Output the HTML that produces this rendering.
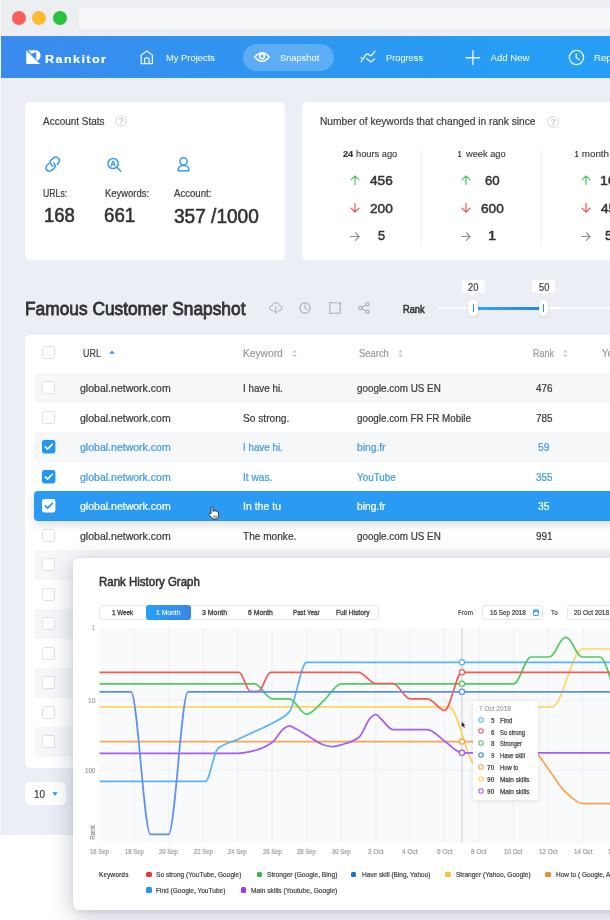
<!DOCTYPE html>
<html><head><meta charset="utf-8"><title>Rankitor</title>
<style>
*{box-sizing:border-box}
html,body{margin:0;padding:0}
body{width:610px;height:920px;overflow:hidden;position:relative;background:#fff;font-family:'Liberation Sans', sans-serif}
.t{position:absolute;white-space:nowrap;transform-origin:0 50%}
.a{position:absolute}
svg{position:absolute;overflow:visible}
</style></head><body>
<div class="a" style="left:0;top:0;width:610px;height:37px;background:#eceef2"></div>
<div class="a" style="left:0;top:0;width:1px;height:835px;background:#f7f8fa"></div>
<div class="a" style="left:12.4px;top:11.1px;width:13.8px;height:13.8px;border-radius:50%;background:#fb5f5a"></div>
<div class="a" style="left:32.1px;top:11.1px;width:13.8px;height:13.8px;border-radius:50%;background:#fdbd31"></div>
<div class="a" style="left:53.1px;top:11.1px;width:13.8px;height:13.8px;border-radius:50%;background:#29c33d"></div>
<div class="a" style="left:79.3px;top:8.2px;width:560px;height:21px;border-radius:4px;background:#f7f8fa"></div>
<div class="a" style="left:1px;top:36.2px;width:610px;height:41.4px;background:linear-gradient(90deg,#3a8aec 0%,#3194f0 37%,#299bf3 72%,#25a0f6 100%)"></div>
<div class="a" style="left:243.1px;top:43.7px;width:91.3px;height:27px;border-radius:13.5px;background:rgba(255,255,255,0.22)"></div>
<svg style="left:26px;top:50px" width="15" height="14" viewBox="0 0 15 14">
<path d="M0.3,0.6 L0.3,14 L14,14 Z" fill="#fff"/>
<path d="M2,0.3 L9.5,0.3 C12.8,0.3 14.6,2.6 14.6,5.6 C14.6,8.2 13.3,9.9 11.6,10.6 L12.6,11.7 Z M5.3,3.8 L10.2,2.3 L10.2,8.9 Z" fill="#fff" fill-rule="evenodd"/>
</svg>
<div class="t" style="left:44.90px;top:52.68px;font-size:11.60px;line-height:11.60px;font-weight:700;color:#fff;-webkit-text-stroke:0.2px #fff;letter-spacing:1.300px;transform:scaleX(1.0863)">Rankitor</div>
<svg style="left:140.3px;top:50px" width="14" height="15" viewBox="0 0 14 15" fill="none" stroke="rgba(255,255,255,0.9)" stroke-width="1.3" stroke-linejoin="round">
<path d="M1.2,5 L6.8,1 L12.4,5 L12.4,13.6 L1.2,13.6 Z"/><path d="M4.6,13.6 L4.6,9.2 Q4.6,7.9 5.9,7.9 L7.7,7.9 Q9,7.9 9,9.2 L9,13.6"/></svg>
<div class="t" style="left:165.50px;top:53.27px;font-size:9.60px;line-height:9.60px;color:rgba(255,255,255,0.93);-webkit-text-stroke:0.05px rgba(255,255,255,0.93);transform:scaleX(0.9779)">My Projects</div>
<svg style="left:254px;top:51px" width="16" height="12" viewBox="0 0 16 12" fill="none" stroke="#fff" stroke-width="1.5">
<path d="M0.8,6 Q8,-2.5 15.2,6 Q8,14.5 0.8,6 Z"/><circle cx="8" cy="5.3" r="2.4"/></svg>
<div class="t" style="left:279.80px;top:53.27px;font-size:9.60px;line-height:9.60px;color:rgba(255,255,255,0.93);-webkit-text-stroke:0.05px rgba(255,255,255,0.93);transform:scaleX(0.9688)">Snapshot</div>
<svg style="left:355px;top:45px" width="24" height="24" viewBox="0 0 24 24" fill="none" stroke="rgba(255,255,255,0.9)" stroke-width="1.35" stroke-linecap="round" stroke-linejoin="round">
<path d="M6.1,16.7 L10.9,9.6 Q11.8,8.5 13,9.2 L15.2,10.5 Q16.1,11 16.8,10.1 L19.9,6.3"/><path d="M11.6,13.4 L15.1,16.3 Q16.1,17.1 17,16.3 L19.5,14"/><path d="M5.9,12.6 L6.5,12.9"/></svg>
<div class="t" style="left:385.60px;top:53.27px;font-size:9.60px;line-height:9.60px;color:rgba(255,255,255,0.93);-webkit-text-stroke:0.05px rgba(255,255,255,0.93);transform:scaleX(0.9639)">Progress</div>
<svg style="left:464.5px;top:49.5px" width="16" height="16" viewBox="0 0 16 16" fill="none" stroke="rgba(255,255,255,0.9)" stroke-width="1.35" stroke-linecap="round">
<path d="M7.9,1 V14.6 M1,7.7 H14.6"/></svg>
<div class="t" style="left:490.50px;top:53.27px;font-size:9.60px;line-height:9.60px;color:rgba(255,255,255,0.93);-webkit-text-stroke:0.05px rgba(255,255,255,0.93)">Add New</div>
<svg style="left:568.3px;top:48.5px" width="17" height="17" viewBox="0 0 17 17" fill="none" stroke="rgba(255,255,255,0.9)" stroke-width="1.35" stroke-linecap="round">
<circle cx="8.5" cy="8.5" r="7.1"/><path d="M8.2,4.9 V8.5 L11.3,10.8"/></svg>
<div class="t" style="left:593.60px;top:53.27px;font-size:9.60px;line-height:9.60px;color:rgba(255,255,255,0.93);-webkit-text-stroke:0.05px rgba(255,255,255,0.93);transform:scaleX(1.0061)">Reports</div>
<div class="a" style="left:1px;top:77.5px;width:610px;height:757px;background:#ebeef5"></div>
<div class="a" style="left:25px;top:101.5px;width:259.5px;height:158.5px;border-radius:5px;background:#fff"></div>
<div class="t" style="left:43.30px;top:116.05px;font-size:11.40px;line-height:11.40px;color:#3d3d3d;-webkit-text-stroke:0.22px #3d3d3d;transform:scaleX(0.8756)">Account Stats</div>
<svg style="left:114.7px;top:115px" width="12" height="12" viewBox="0 0 12 12"><circle cx="6" cy="6" r="5.3" fill="none" stroke="#cfd2d6" stroke-width="0.9"/>
<text x="6" y="9.1" font-size="8.6" font-weight="bold" text-anchor="middle" fill="#c4c7cc" font-family="Liberation Sans, sans-serif">?</text></svg>
<svg style="left:42px;top:153px" width="22" height="22" viewBox="0 0 22 22" fill="none" stroke="#3a9cf0" stroke-width="1.55" stroke-linecap="round">
<path d="M10.5,13.2 L8.9,11.3 C7.8,10 8,8 9.3,6.8 L11.6,4.9 C13,3.8 15.2,3.9 16.5,5.3 C17.8,6.7 17.7,8.9 16.3,10.1 L15.3,11.1"/>
<path d="M6.6,10.8 L5,12.3 C3.6,13.6 3.6,15.8 4.9,17.1 C6.2,18.4 8.4,18.5 9.7,17.3 L12,15.3 C13.3,14.1 13.4,12.1 12.2,10.8 L11.6,10.1"/></svg>
<svg style="left:103px;top:153px" width="22" height="22" viewBox="0 0 22 22" fill="none" stroke="#3a9cf0" stroke-width="1.5" stroke-linecap="round">
<circle cx="10.1" cy="10.5" r="5.1"/><path d="M13.9,14.3 L17.9,18.3"/>
<path d="M8.3,12.9 L9.6,8.4 H10.6 L11.9,12.9 M8.8,11.3 H11.4" stroke-width="1.2" stroke-linejoin="round"/></svg>
<svg style="left:173px;top:153px" width="22" height="22" viewBox="0 0 22 22" fill="none" stroke="#3a9cf0" stroke-width="1.5" stroke-linejoin="round">
<circle cx="10.5" cy="8.3" r="3.6"/><path d="M5.1,17.8 Q4.9,12.4 10.5,12.4 Q16.1,12.4 15.9,17.8 Z"/></svg>
<div class="t" style="left:42.90px;top:188.84px;font-size:10.00px;line-height:10.00px;color:#3d3d3d;-webkit-text-stroke:0.22px #3d3d3d;transform:scaleX(0.8739)">URLs:</div>
<div class="t" style="left:104.50px;top:188.84px;font-size:10.00px;line-height:10.00px;color:#3d3d3d;-webkit-text-stroke:0.22px #3d3d3d;transform:scaleX(0.9432)">Keywords:</div>
<div class="t" style="left:173.70px;top:188.74px;font-size:10.00px;line-height:10.00px;color:#3d3d3d;-webkit-text-stroke:0.22px #3d3d3d;transform:scaleX(0.9598)">Account:</div>
<div class="t" style="left:43.97px;top:206.04px;font-size:19.80px;line-height:19.80px;color:#333;-webkit-text-stroke:0.6px #333;transform:scaleX(0.9343)">168</div>
<div class="t" style="left:103.55px;top:206.04px;font-size:19.80px;line-height:19.80px;color:#333;-webkit-text-stroke:0.6px #333;transform:scaleX(0.9468)">661</div>
<div class="t" style="left:174.20px;top:206.64px;font-size:19.80px;line-height:19.80px;color:#333;-webkit-text-stroke:0.6px #333;transform:scaleX(0.9636)">357 /1000</div>
<div class="a" style="left:302px;top:101.5px;width:330px;height:158.5px;border-radius:5px;background:#fff"></div>
<div class="t" style="left:320.40px;top:115.95px;font-size:11.40px;line-height:11.40px;color:#3d3d3d;-webkit-text-stroke:0.22px #3d3d3d;transform:scaleX(0.8957)">Number of keywords that changed in rank since</div>
<svg style="left:547.3px;top:115.8px" width="12" height="12" viewBox="0 0 12 12"><circle cx="6" cy="6" r="5.3" fill="none" stroke="#cfd2d6" stroke-width="0.9"/>
<text x="6" y="9.1" font-size="8.6" font-weight="bold" text-anchor="middle" fill="#c4c7cc" font-family="Liberation Sans, sans-serif">?</text></svg>
<div class="a" style="left:421px;top:148px;width:1px;height:99px;background:#f1f2f5"></div>
<div class="a" style="left:541.3px;top:148px;width:1px;height:99px;background:#f1f2f5"></div>
<div class="t" style="left:343.10px;top:149.00px;font-size:9.80px;line-height:9.80px;font-weight:700;color:#333;-webkit-text-stroke:0.2px #333;transform:scaleX(0.9346)">24</div>
<div class="t" style="left:355.90px;top:149.00px;font-size:9.80px;line-height:9.80px;color:#3d3d3d;-webkit-text-stroke:0.15px #3d3d3d;transform:scaleX(0.9473)">hours ago</div>
<svg style="left:350.0px;top:175.0px" width="10" height="10" viewBox="0 0 10 10" fill="none" stroke="#4cc45e" stroke-width="1.15" stroke-linecap="round" stroke-linejoin="round">
<path d="M5,9.4 V0.9 M1,4.8 L5,0.8 L9,4.8"/></svg>
<svg style="left:350.0px;top:202.6px" width="10" height="10" viewBox="0 0 10 10" fill="none" stroke="#f24d4d" stroke-width="1.15" stroke-linecap="round" stroke-linejoin="round">
<path d="M5,0.6 V9.1 M1,5.2 L5,9.2 L9,5.2"/></svg>
<svg style="left:350.0px;top:231.5px" width="10" height="9" viewBox="0 0 10 9" fill="none" stroke="#8f8f8f" stroke-width="1.1" stroke-linecap="round" stroke-linejoin="round">
<path d="M0.6,4.5 H9.2 M5.4,0.7 L9.2,4.5 L5.4,8.3"/></svg>
<div class="t" style="left:370.00px;top:173.87px;font-size:13.50px;line-height:13.50px;color:#333;-webkit-text-stroke:0.5px #333;transform:scaleX(1.0084)">456</div>
<div class="t" style="left:370.00px;top:201.77px;font-size:13.50px;line-height:13.50px;color:#333;-webkit-text-stroke:0.5px #333;transform:scaleX(1.0084)">200</div>
<div class="t" style="left:377.80px;top:229.27px;font-size:13.50px;line-height:13.50px;color:#333;-webkit-text-stroke:0.5px #333;transform:scaleX(0.9429)">5</div>
<div class="t" style="left:458.10px;top:149.00px;font-size:9.80px;line-height:9.80px;font-weight:700;color:#333;-webkit-text-stroke:0.2px #333;transform:scaleX(0.6000)">1</div>
<div class="t" style="left:465.85px;top:149.00px;font-size:9.80px;line-height:9.80px;color:#3d3d3d;-webkit-text-stroke:0.15px #3d3d3d;transform:scaleX(0.9451)">week ago</div>
<svg style="left:461.2px;top:175.0px" width="10" height="10" viewBox="0 0 10 10" fill="none" stroke="#4cc45e" stroke-width="1.15" stroke-linecap="round" stroke-linejoin="round">
<path d="M5,9.4 V0.9 M1,4.8 L5,0.8 L9,4.8"/></svg>
<svg style="left:461.2px;top:202.6px" width="10" height="10" viewBox="0 0 10 10" fill="none" stroke="#f24d4d" stroke-width="1.15" stroke-linecap="round" stroke-linejoin="round">
<path d="M5,0.6 V9.1 M1,5.2 L5,9.2 L9,5.2"/></svg>
<svg style="left:461.2px;top:231.5px" width="10" height="9" viewBox="0 0 10 9" fill="none" stroke="#8f8f8f" stroke-width="1.1" stroke-linecap="round" stroke-linejoin="round">
<path d="M0.6,4.5 H9.2 M5.4,0.7 L9.2,4.5 L5.4,8.3"/></svg>
<div class="t" style="left:485.20px;top:173.87px;font-size:13.50px;line-height:13.50px;color:#333;-webkit-text-stroke:0.5px #333;transform:scaleX(0.9788)">60</div>
<div class="t" style="left:481.20px;top:201.77px;font-size:13.50px;line-height:13.50px;color:#333;-webkit-text-stroke:0.5px #333;transform:scaleX(1.0084)">600</div>
<div class="t" style="left:487.90px;top:229.27px;font-size:13.50px;line-height:13.50px;color:#333;-webkit-text-stroke:0.5px #333;transform:scaleX(1.1000)">1</div>
<div class="t" style="left:575.00px;top:149.00px;font-size:9.80px;line-height:9.80px;font-weight:700;color:#333;-webkit-text-stroke:0.2px #333;transform:scaleX(0.6000)">1</div>
<div class="t" style="left:581.80px;top:149.00px;font-size:9.80px;line-height:9.80px;color:#3d3d3d;-webkit-text-stroke:0.15px #3d3d3d">month ago</div>
<svg style="left:580.8px;top:175.0px" width="10" height="10" viewBox="0 0 10 10" fill="none" stroke="#4cc45e" stroke-width="1.15" stroke-linecap="round" stroke-linejoin="round">
<path d="M5,9.4 V0.9 M1,4.8 L5,0.8 L9,4.8"/></svg>
<svg style="left:580.8px;top:202.6px" width="10" height="10" viewBox="0 0 10 10" fill="none" stroke="#f24d4d" stroke-width="1.15" stroke-linecap="round" stroke-linejoin="round">
<path d="M5,0.6 V9.1 M1,5.2 L5,9.2 L9,5.2"/></svg>
<svg style="left:580.8px;top:231.5px" width="10" height="9" viewBox="0 0 10 9" fill="none" stroke="#8f8f8f" stroke-width="1.1" stroke-linecap="round" stroke-linejoin="round">
<path d="M0.6,4.5 H9.2 M5.4,0.7 L9.2,4.5 L5.4,8.3"/></svg>
<div class="t" style="left:599.74px;top:173.87px;font-size:13.50px;line-height:13.50px;color:#333;-webkit-text-stroke:0.5px #333;transform:scaleX(1.0563)">100</div>
<div class="t" style="left:600.80px;top:201.77px;font-size:13.50px;line-height:13.50px;color:#333;-webkit-text-stroke:0.5px #333;transform:scaleX(1.0084)">450</div>
<div class="t" style="left:604.80px;top:229.27px;font-size:13.50px;line-height:13.50px;color:#333;-webkit-text-stroke:0.5px #333;transform:scaleX(0.9788)">50</div>
<div class="t" style="left:24.67px;top:299.76px;font-size:18.60px;line-height:18.60px;color:#333;-webkit-text-stroke:0.85px #333;transform:scaleX(0.9315)">Famous Customer Snapshot</div>
<svg style="left:268.9px;top:301.8px" width="13.6" height="11.8" viewBox="0 0 15 13" fill="none" stroke="#a9adb3" stroke-width="1.1" stroke-linecap="round" stroke-linejoin="round">
<path d="M4.2,9.6 L3.6,9.6 Q0.7,9.6 0.7,6.8 Q0.7,4.3 3.3,4.1 Q4,0.8 7.4,0.8 Q10.7,0.8 11.4,4 Q14.3,4.3 14.3,7 Q14.3,9.6 11.3,9.6 L10.8,9.6"/>
<path d="M7.5,5.5 V12 M5.6,10.1 L7.5,12 L9.4,10.1"/></svg>
<svg style="left:299.4px;top:301.7px" width="12" height="12" viewBox="0 0 12 12" fill="none" stroke="#a9adb3" stroke-width="1.1" stroke-linecap="round">
<circle cx="6" cy="6" r="5.1"/><path d="M6,3 V6.2 L8,7.6"/></svg>
<svg style="left:328.5px;top:302.3px" width="13" height="12" viewBox="0 0 13 12" fill="none" stroke="#a9adb3" stroke-width="1.1">
<path d="M8.5,0.8 H0.8 V11.2 H11.2 V3.6"/><circle cx="11" cy="1.6" r="1.3" fill="#a9adb3" stroke="none"/></svg>
<svg style="left:358.3px;top:301.7px" width="12" height="12" viewBox="0 0 12 12" fill="none" stroke="#a9adb3" stroke-width="1.1">
<circle cx="2.3" cy="6" r="1.7"/><circle cx="9.4" cy="2.2" r="1.7"/><circle cx="9.4" cy="9.8" r="1.7"/><path d="M3.8,5.2 L7.9,3 M3.8,6.8 L7.9,9"/></svg>
<div class="t" style="left:402.50px;top:303.53px;font-size:10.60px;line-height:10.60px;color:#333;-webkit-text-stroke:0.55px #333;transform:scaleX(0.8728)">Rank</div>
<div class="a" style="left:438.3px;top:306.5px;width:180px;height:2.6px;border-radius:2px;background:#fff"></div>
<div class="a" style="left:473px;top:306.6px;width:70px;height:3px;background:linear-gradient(90deg,#36a6f6,#2f7fe2)"></div>
<div class="a" style="left:468.4px;top:299.5px;width:9.8px;height:16.8px;border-radius:4.5px;background:#fff;box-shadow:0 1px 3px rgba(0,0,0,0.12)"></div>
<div class="a" style="left:472.59999999999997px;top:303.5px;width:1.4px;height:8.6px;background:#2d96ee"></div>
<div class="a" style="left:538.6px;top:299.5px;width:9.8px;height:16.8px;border-radius:4.5px;background:#fff;box-shadow:0 1px 3px rgba(0,0,0,0.12)"></div>
<div class="a" style="left:542.8000000000001px;top:303.5px;width:1.4px;height:8.6px;background:#2d96ee"></div>
<div class="a" style="left:461.6px;top:280.3px;width:23px;height:12.8px;border-radius:3px;background:#fff"></div>
<div class="a" style="left:470.1px;top:292.5px;width:0;height:0;border-left:3px solid transparent;border-right:3px solid transparent;border-top:3px solid #fff"></div>
<div class="t" style="left:467.80px;top:282.77px;font-size:10.20px;line-height:10.20px;color:#3a3a3a;-webkit-text-stroke:0.2px #3a3a3a;transform:scaleX(0.9086)">20</div>
<div class="a" style="left:532.4px;top:280.3px;width:23px;height:12.8px;border-radius:3px;background:#fff"></div>
<div class="a" style="left:540.9px;top:292.5px;width:0;height:0;border-left:3px solid transparent;border-right:3px solid transparent;border-top:3px solid #fff"></div>
<div class="t" style="left:538.60px;top:282.77px;font-size:10.20px;line-height:10.20px;color:#3a3a3a;-webkit-text-stroke:0.2px #3a3a3a;transform:scaleX(0.9086)">50</div>
<div class="a" style="left:25px;top:335px;width:600px;height:433px;border-radius:5px;background:#fff"></div>
<div class="a" style="left:42.1px;top:346.0px;width:13.4px;height:13.4px;border:1px solid #dfe1e5;border-radius:2.5px;background:#fff"></div>
<div class="t" style="left:82.70px;top:349.18px;font-size:10.30px;line-height:10.30px;color:#454545;-webkit-text-stroke:0.22px #454545;transform:scaleX(0.8672)">URL</div>
<svg style="left:108.6px;top:349.8px" width="6" height="4" viewBox="0 0 6 4"><path d="M0.3,3.7 L3,0.4 L5.7,3.7 Z" fill="#2196f3"/></svg>
<div class="t" style="left:242.50px;top:349.18px;font-size:10.30px;line-height:10.30px;color:#9b9b9b;-webkit-text-stroke:0.22px #9b9b9b;transform:scaleX(0.9917)">Keyword</div>
<svg style="left:291.5px;top:348.6px" width="5" height="9" viewBox="0 0 5 9"><path d="M0.3,3.6 L2.5,0.8 L4.7,3.6 Z M0.3,5.4 L2.5,8.2 L4.7,5.4 Z" fill="#c5c8cc"/></svg>
<div class="t" style="left:358.90px;top:349.18px;font-size:10.30px;line-height:10.30px;color:#9b9b9b;-webkit-text-stroke:0.22px #9b9b9b;transform:scaleX(0.9149)">Search</div>
<svg style="left:397.5px;top:348.6px" width="5" height="9" viewBox="0 0 5 9"><path d="M0.3,3.6 L2.5,0.8 L4.7,3.6 Z M0.3,5.4 L2.5,8.2 L4.7,5.4 Z" fill="#c5c8cc"/></svg>
<div class="t" style="left:532.50px;top:349.18px;font-size:10.30px;line-height:10.30px;color:#9b9b9b;-webkit-text-stroke:0.22px #9b9b9b;transform:scaleX(0.8678)">Rank</div>
<svg style="left:562.7px;top:348.6px" width="5" height="9" viewBox="0 0 5 9"><path d="M0.3,3.6 L2.5,0.8 L4.7,3.6 Z M0.3,5.4 L2.5,8.2 L4.7,5.4 Z" fill="#c5c8cc"/></svg>
<div class="t" style="left:601.90px;top:349.18px;font-size:10.30px;line-height:10.30px;color:#9b9b9b;-webkit-text-stroke:0.22px #9b9b9b;transform:scaleX(0.9356)">Year</div>
<div class="a" style="left:34.1px;top:373.3px;width:590px;height:29.3px;border-radius:4px;background:#f6f7f9"></div>
<div class="a" style="left:42.1px;top:381.1px;width:13.4px;height:13.4px;border:1px solid #dfe1e5;border-radius:2.5px;background:#fff"></div>
<div class="t" style="left:80.00px;top:384.17px;font-size:10.20px;line-height:10.20px;color:#3a3a3a;-webkit-text-stroke:0.22px #3a3a3a;transform:scaleX(1.0334)">global.network.com</div>
<div class="t" style="left:243.00px;top:384.17px;font-size:10.20px;line-height:10.20px;color:#3a3a3a;-webkit-text-stroke:0.22px #3a3a3a;transform:scaleX(0.9627)">I have hi.</div>
<div class="t" style="left:357.40px;top:384.17px;font-size:10.20px;line-height:10.20px;color:#3a3a3a;-webkit-text-stroke:0.22px #3a3a3a;transform:scaleX(0.9667)">google.com US EN</div>
<div class="t" style="left:535.55px;top:384.17px;font-size:10.20px;line-height:10.20px;color:#3a3a3a;-webkit-text-stroke:0.22px #3a3a3a;transform:scaleX(0.9751)">476</div>
<div class="a" style="left:42.1px;top:410.6px;width:13.4px;height:13.4px;border:1px solid #dfe1e5;border-radius:2.5px;background:#fff"></div>
<div class="t" style="left:80.00px;top:413.67px;font-size:10.20px;line-height:10.20px;color:#3a3a3a;-webkit-text-stroke:0.22px #3a3a3a;transform:scaleX(1.0334)">global.network.com</div>
<div class="t" style="left:243.00px;top:413.67px;font-size:10.20px;line-height:10.20px;color:#3a3a3a;-webkit-text-stroke:0.22px #3a3a3a;transform:scaleX(0.9977)">So strong.</div>
<div class="t" style="left:357.40px;top:413.67px;font-size:10.20px;line-height:10.20px;color:#3a3a3a;-webkit-text-stroke:0.22px #3a3a3a;transform:scaleX(0.9632)">google.com FR FR Mobile</div>
<div class="t" style="left:535.55px;top:413.67px;font-size:10.20px;line-height:10.20px;color:#3a3a3a;-webkit-text-stroke:0.22px #3a3a3a;transform:scaleX(0.9751)">785</div>
<div class="a" style="left:34.1px;top:432.3px;width:590px;height:29.3px;border-radius:4px;background:#f6f7f9"></div>
<svg style="left:42.1px;top:440.1px" width="13.4" height="13.4" viewBox="0 0 13.4 13.4"><rect x="0" y="0" width="13.4" height="13.4" rx="2.3" fill="#2196f3"/>
<path d="M3.3,6.9 L5.6,9.1 L10.2,4.4" fill="none" stroke="#fff" stroke-width="1.6" stroke-linecap="round" stroke-linejoin="round"/></svg>
<div class="t" style="left:80.00px;top:443.17px;font-size:10.20px;line-height:10.20px;color:#3d9be2;-webkit-text-stroke:0.22px #3d9be2;transform:scaleX(1.0334)">global.network.com</div>
<div class="t" style="left:243.00px;top:443.17px;font-size:10.20px;line-height:10.20px;color:#3d9be2;-webkit-text-stroke:0.22px #3d9be2;transform:scaleX(0.9627)">I have hi.</div>
<div class="t" style="left:357.40px;top:443.17px;font-size:10.20px;line-height:10.20px;color:#3d9be2;-webkit-text-stroke:0.22px #3d9be2;transform:scaleX(1.0027)">bing.fr</div>
<div class="t" style="left:538.15px;top:443.17px;font-size:10.20px;line-height:10.20px;color:#3d9be2;-webkit-text-stroke:0.22px #3d9be2;transform:scaleX(1.0029)">59</div>
<svg style="left:42.1px;top:469.6px" width="13.4" height="13.4" viewBox="0 0 13.4 13.4"><rect x="0" y="0" width="13.4" height="13.4" rx="2.3" fill="#2196f3"/>
<path d="M3.3,6.9 L5.6,9.1 L10.2,4.4" fill="none" stroke="#fff" stroke-width="1.6" stroke-linecap="round" stroke-linejoin="round"/></svg>
<div class="t" style="left:80.00px;top:472.67px;font-size:10.20px;line-height:10.20px;color:#3d9be2;-webkit-text-stroke:0.22px #3d9be2;transform:scaleX(1.0334)">global.network.com</div>
<div class="t" style="left:243.00px;top:472.67px;font-size:10.20px;line-height:10.20px;color:#3d9be2;-webkit-text-stroke:0.22px #3d9be2;transform:scaleX(0.9962)">It was.</div>
<div class="t" style="left:357.40px;top:472.67px;font-size:10.20px;line-height:10.20px;color:#3d9be2;-webkit-text-stroke:0.22px #3d9be2;transform:scaleX(0.9686)">YouTube</div>
<div class="t" style="left:535.55px;top:472.67px;font-size:10.20px;line-height:10.20px;color:#3d9be2;-webkit-text-stroke:0.22px #3d9be2;transform:scaleX(0.9751)">355</div>
<div class="a" style="left:34.1px;top:491.3px;width:590px;height:29.3px;border-radius:4px;background:#2b9af3;box-shadow:0 4px 8px rgba(40,60,90,0.16)"></div>
<svg style="left:42.1px;top:499.1px" width="13.4" height="13.4" viewBox="0 0 13.4 13.4"><rect x="0" y="0" width="13.4" height="13.4" rx="2.3" fill="#fff"/>
<path d="M3.3,6.9 L5.6,9.1 L10.2,4.4" fill="none" stroke="#2196f3" stroke-width="1.6" stroke-linecap="round" stroke-linejoin="round"/></svg>
<div class="t" style="left:80.00px;top:502.17px;font-size:10.20px;line-height:10.20px;color:#ffffff;-webkit-text-stroke:0.22px #ffffff;transform:scaleX(1.0334)">global.network.com</div>
<div class="t" style="left:243.00px;top:502.17px;font-size:10.20px;line-height:10.20px;color:#ffffff;-webkit-text-stroke:0.22px #ffffff;transform:scaleX(1.0318)">In the tu</div>
<div class="t" style="left:357.40px;top:502.17px;font-size:10.20px;line-height:10.20px;color:#ffffff;-webkit-text-stroke:0.22px #ffffff;transform:scaleX(1.0027)">bing.fr</div>
<div class="t" style="left:538.15px;top:502.17px;font-size:10.20px;line-height:10.20px;color:#ffffff;-webkit-text-stroke:0.22px #ffffff;transform:scaleX(1.0029)">35</div>
<div class="a" style="left:42.1px;top:528.6px;width:13.4px;height:13.4px;border:1px solid #dfe1e5;border-radius:2.5px;background:#fff"></div>
<div class="t" style="left:80.00px;top:531.67px;font-size:10.20px;line-height:10.20px;color:#3a3a3a;-webkit-text-stroke:0.22px #3a3a3a;transform:scaleX(1.0334)">global.network.com</div>
<div class="t" style="left:243.00px;top:531.67px;font-size:10.20px;line-height:10.20px;color:#3a3a3a;-webkit-text-stroke:0.22px #3a3a3a;transform:scaleX(0.9913)">The monke.</div>
<div class="t" style="left:357.40px;top:531.67px;font-size:10.20px;line-height:10.20px;color:#3a3a3a;-webkit-text-stroke:0.22px #3a3a3a;transform:scaleX(0.9667)">google.com US EN</div>
<div class="t" style="left:535.55px;top:531.67px;font-size:10.20px;line-height:10.20px;color:#3a3a3a;-webkit-text-stroke:0.22px #3a3a3a;transform:scaleX(0.9751)">991</div>
<div class="a" style="left:34.1px;top:550.3px;width:590px;height:29.3px;border-radius:4px;background:#f6f7f9"></div>
<div class="a" style="left:42.1px;top:558.1px;width:13.4px;height:13.4px;border:1px solid #dfe1e5;border-radius:2.5px;background:#fff"></div>
<div class="a" style="left:42.1px;top:587.6px;width:13.4px;height:13.4px;border:1px solid #dfe1e5;border-radius:2.5px;background:#fff"></div>
<div class="a" style="left:34.1px;top:609.3px;width:590px;height:29.3px;border-radius:4px;background:#f6f7f9"></div>
<div class="a" style="left:42.1px;top:617.1px;width:13.4px;height:13.4px;border:1px solid #dfe1e5;border-radius:2.5px;background:#fff"></div>
<div class="a" style="left:42.1px;top:646.6px;width:13.4px;height:13.4px;border:1px solid #dfe1e5;border-radius:2.5px;background:#fff"></div>
<div class="a" style="left:34.1px;top:668.3px;width:590px;height:29.3px;border-radius:4px;background:#f6f7f9"></div>
<div class="a" style="left:42.1px;top:676.1px;width:13.4px;height:13.4px;border:1px solid #dfe1e5;border-radius:2.5px;background:#fff"></div>
<div class="a" style="left:42.1px;top:705.6px;width:13.4px;height:13.4px;border:1px solid #dfe1e5;border-radius:2.5px;background:#fff"></div>
<div class="a" style="left:34.1px;top:727.3px;width:590px;height:29.3px;border-radius:4px;background:#f6f7f9"></div>
<div class="a" style="left:42.1px;top:735.1px;width:13.4px;height:13.4px;border:1px solid #dfe1e5;border-radius:2.5px;background:#fff"></div>
<svg style="left:208.0px;top:505.8px" width="12.4" height="14.1" viewBox="0 0 13 15">
<path d="M3.2,8.2 L3.2,1.8 Q3.2,0.7 4.2,0.7 Q5.2,0.7 5.2,1.8 L5.2,5.6 Q6.3,4.9 7.2,5.4 Q8.2,4.9 9,5.7 Q10.2,5.4 10.9,6.4 L11.2,10 Q11.2,12.4 9.6,13.8 L5,13.8 Q3.6,12.3 1.2,9.6 Q0.6,8.6 1.5,8 Q2.4,7.6 3.2,8.2 Z" fill="#fff" stroke="#222" stroke-width="0.9" stroke-linejoin="round"/>
<path d="M6,10.2 V12.4 M7.6,10.2 V12.4 M9.1,10.2 V12.4" stroke="#222" stroke-width="0.7"/></svg>
<div class="a" style="left:25px;top:781.6px;width:40.5px;height:23.3px;border-radius:5px;background:#fff"></div>
<div class="t" style="left:34.40px;top:788.65px;font-size:11.40px;line-height:11.40px;color:#3a3a3a;-webkit-text-stroke:0.22px #3a3a3a;transform:scaleX(0.8756)">10</div>
<svg style="left:51.8px;top:792px" width="6" height="4" viewBox="0 0 6 4"><path d="M0.3,0.3 L5.7,0.3 L3,3.7 Z" fill="#2196f3"/></svg>
<div class="a" style="left:72.7px;top:558px;width:600px;height:352.3px;border-radius:6px;background:#fff;box-shadow:0 6px 26px rgba(30,50,90,0.27), 0 1px 5px rgba(30,50,90,0.08)"></div>
<div class="t" style="left:98.87px;top:575.69px;font-size:12.30px;line-height:12.30px;color:#333;-webkit-text-stroke:0.55px #333;transform:scaleX(0.9334)">Rank History Graph</div>
<div class="a" style="left:99.1px;top:604.6px;width:280.4px;height:15.2px;border:1px solid #e5e7ea;border-radius:4px;background:#fff"></div>
<div class="a" style="left:145.5px;top:604.6px;width:45.4px;height:15.2px;border-radius:3px;background:linear-gradient(90deg,#27a0f5,#3b86e8)"></div>
<div class="t" style="left:111.50px;top:608.87px;font-size:7.60px;line-height:7.60px;color:#3a3a3a;-webkit-text-stroke:0.3px #3a3a3a;transform:scaleX(0.8291)">1 Week</div>
<div class="t" style="left:156.30px;top:608.87px;font-size:7.60px;line-height:7.60px;color:#fff;-webkit-text-stroke:0.1px #fff;transform:scaleX(0.8929)">1 Month</div>
<div class="t" style="left:202.20px;top:608.87px;font-size:7.60px;line-height:7.60px;color:#3a3a3a;-webkit-text-stroke:0.3px #3a3a3a;transform:scaleX(0.9113)">3 Month</div>
<div class="t" style="left:248.00px;top:608.87px;font-size:7.60px;line-height:7.60px;color:#3a3a3a;-webkit-text-stroke:0.3px #3a3a3a;transform:scaleX(0.9039)">6 Month</div>
<div class="t" style="left:293.00px;top:608.87px;font-size:7.60px;line-height:7.60px;color:#3a3a3a;-webkit-text-stroke:0.3px #3a3a3a;transform:scaleX(0.8153)">Past Year</div>
<div class="t" style="left:335.60px;top:608.87px;font-size:7.60px;line-height:7.60px;color:#3a3a3a;-webkit-text-stroke:0.3px #3a3a3a;transform:scaleX(0.8828)">Full History</div>
<div class="t" style="left:458.10px;top:608.87px;font-size:7.60px;line-height:7.60px;font-weight:700;color:#555;transform:scaleX(0.7955)">From</div>
<div class="a" style="left:481.8px;top:604.8px;width:60.8px;height:15.3px;border:1px solid #e3e5e8;border-radius:3px;background:#fff"></div>
<div class="t" style="left:489.60px;top:608.87px;font-size:7.60px;line-height:7.60px;color:#3a3a3a;-webkit-text-stroke:0.22px #3a3a3a;transform:scaleX(0.8332)">16 Sep 2018</div>
<svg style="left:532.6px;top:608.6px" width="6" height="7" viewBox="0 0 6 7"><rect x="0.5" y="1" width="5" height="5.5" rx="0.6" fill="none" stroke="#2196f3" stroke-width="0.9"/><path d="M0.5,2.4 H5.5" stroke="#2196f3" stroke-width="1.3"/><path d="M1.7,0.2 V1.4 M4.3,0.2 V1.4" stroke="#2196f3" stroke-width="0.8"/></svg>
<div class="t" style="left:550.60px;top:608.87px;font-size:7.60px;line-height:7.60px;font-weight:700;color:#555;transform:scaleX(0.8045)">To</div>
<div class="a" style="left:566.8px;top:604.8px;width:60.8px;height:15.3px;border:1px solid #e3e5e8;border-radius:3px;background:#fff"></div>
<div class="t" style="left:573.80px;top:608.87px;font-size:7.60px;line-height:7.60px;color:#3a3a3a;-webkit-text-stroke:0.22px #3a3a3a;transform:scaleX(0.8457)">20 Oct 2018</div>
<div class="a" style="left:99.3px;top:627.5px;width:520px;height:215.0px;border-radius:4px;background:#f9fafc"></div>
<svg style="left:0;top:0" width="610" height="920" viewBox="0 0 610 920">
<defs><clipPath id="pc"><rect x="99.3" y="620" width="520" height="230"/></clipPath></defs>
<path d="M134.02,627.5 V842.5" stroke="#eceef2" stroke-width="0.9"/>
<path d="M168.54,627.5 V842.5" stroke="#eceef2" stroke-width="0.9"/>
<path d="M203.06,627.5 V842.5" stroke="#eceef2" stroke-width="0.9"/>
<path d="M237.58,627.5 V842.5" stroke="#eceef2" stroke-width="0.9"/>
<path d="M272.10,627.5 V842.5" stroke="#eceef2" stroke-width="0.9"/>
<path d="M306.62,627.5 V842.5" stroke="#eceef2" stroke-width="0.9"/>
<path d="M341.14,627.5 V842.5" stroke="#eceef2" stroke-width="0.9"/>
<path d="M375.66,627.5 V842.5" stroke="#eceef2" stroke-width="0.9"/>
<path d="M410.18,627.5 V842.5" stroke="#eceef2" stroke-width="0.9"/>
<path d="M444.70,627.5 V842.5" stroke="#eceef2" stroke-width="0.9"/>
<path d="M479.22,627.5 V842.5" stroke="#eceef2" stroke-width="0.9"/>
<path d="M513.74,627.5 V842.5" stroke="#eceef2" stroke-width="0.9"/>
<path d="M548.26,627.5 V842.5" stroke="#eceef2" stroke-width="0.9"/>
<path d="M582.78,627.5 V842.5" stroke="#eceef2" stroke-width="0.9"/>
<path d="M617.30,627.5 V842.5" stroke="#eceef2" stroke-width="0.9"/>
<path d="M99.3,700.0 H610" stroke="#eceef2" stroke-width="0.9"/>
<path d="M99.3,770.0 H610" stroke="#eceef2" stroke-width="0.9"/>
<path d="M461.96,627.5 V842.5" stroke="#c9d1dc" stroke-width="1.1"/>
<g clip-path="url(#pc)" fill="none" stroke-width="1.7" stroke-linejoin="round">
<path d="M99.50,706.90 C216.07,706.90 332.63,706.90 449.20,706.90 C457.71,706.90 466.21,759.53 474.72,765.00 C476.22,765.96 477.72,767.00 479.22,767.00 C484.97,767.00 490.73,767.00 496.48,767.00 C502.23,767.00 507.99,707.00 513.74,707.00 C526.49,707.00 539.25,707.00 552.00,707.00 C562.17,707.00 572.33,649.00 582.50,649.00 C595.00,649.00 607.50,649.00 620.00,649.00" stroke="#fdd65c"/>
<path d="M99.50,741.60 C237.58,741.60 375.66,741.60 513.74,741.60 C519.49,741.60 525.25,744.11 531.00,747.00 C536.75,749.89 542.51,761.50 548.26,769.00 C554.01,776.50 559.77,786.83 565.52,792.00 C571.27,797.17 577.03,803.70 582.78,803.70 C595.19,803.70 607.59,803.70 620.00,803.70" stroke="#f8a450"/>
<path d="M99.50,753.30 C145.53,753.30 191.55,753.30 237.58,753.30 C243.33,753.30 249.09,751.88 254.84,750.50 C260.59,749.12 266.35,746.47 272.10,742.50 C275.85,739.91 279.61,731.67 283.36,729.00 C285.36,727.58 287.36,725.80 289.36,725.80 C291.36,725.80 293.36,727.59 295.36,728.60 C299.11,730.50 302.87,732.85 306.62,735.00 C312.37,738.30 318.13,743.39 323.88,745.00 C326.55,745.75 329.21,746.60 331.88,746.60 C335.63,746.60 339.39,745.32 343.14,744.30 C348.23,742.92 353.31,741.32 358.40,737.80 C362.49,734.97 366.57,721.23 370.66,717.60 C372.33,716.12 373.99,714.30 375.66,714.30 C377.33,714.30 378.99,717.06 380.66,718.50 C384.75,722.04 388.83,729.60 392.92,729.60 C404.43,729.60 415.93,729.60 427.44,729.60 C433.19,729.60 438.95,737.33 444.70,741.20 C450.45,745.07 456.21,752.80 461.96,752.80 C514.64,752.80 567.32,752.80 620.00,752.80" stroke="#a55ff0"/>
<path d="M99.50,781.40 C134.85,781.40 170.21,781.40 205.56,781.40 C209.65,781.40 213.73,751.87 217.82,748.50 C224.41,743.07 230.99,742.53 237.58,739.50 C243.33,736.86 249.09,734.22 254.84,731.50 C260.59,728.78 266.35,726.40 272.10,723.20 C277.85,720.00 283.61,717.98 289.36,711.80 C295.11,705.62 300.87,662.30 306.62,662.30 C411.08,662.30 515.54,662.30 620.00,662.30" stroke="#5ab3f3"/>
<path d="M99.50,683.80 C151.28,683.80 203.06,683.80 254.84,683.80 C260.59,683.80 266.35,698.80 272.10,698.80 C277.85,698.80 283.61,698.80 289.36,698.80 C295.11,698.80 300.87,714.20 306.62,714.20 C312.37,714.20 318.13,705.52 323.88,700.50 C329.63,695.48 335.39,683.80 341.14,683.80 C398.67,683.80 456.21,683.80 513.74,683.80 C519.49,683.80 525.25,657.00 531.00,657.00 C537.00,657.00 543.00,657.00 549.00,657.00 C549.80,657.00 550.60,656.51 551.39,656.03 C552.19,655.55 552.99,654.38 553.79,653.31 C554.58,652.24 555.38,650.76 556.18,649.38 C556.98,648.00 557.77,646.40 558.57,645.02 C559.37,643.64 560.17,642.16 560.96,641.09 C561.76,640.02 562.56,638.85 563.36,638.37 C564.15,637.89 564.95,637.40 565.75,637.40 C566.55,637.40 567.35,637.89 568.14,638.37 C568.94,638.85 569.74,640.02 570.54,641.09 C571.33,642.16 572.13,643.64 572.93,645.02 C573.73,646.40 574.52,648.00 575.32,649.38 C576.12,650.76 576.92,652.24 577.71,653.31 C578.51,654.38 579.31,655.55 580.11,656.03 C580.90,656.51 581.70,657.00 582.50,657.00 C588.35,657.00 594.19,657.00 600.04,657.00 C605.79,657.00 611.55,685.67 617.30,700.00" stroke="#55c961"/>
<path d="M99.50,672.30 C146.03,672.30 192.55,672.30 239.08,672.30 C242.83,672.30 246.59,691.30 250.34,691.30 C253.01,691.30 255.67,691.30 258.34,691.30 C262.43,691.30 266.51,672.30 270.60,672.30 C299.87,672.30 329.13,672.30 358.40,672.30 C364.15,672.30 369.91,683.50 375.66,683.50 C381.41,683.50 387.17,683.50 392.92,683.50 C398.67,683.50 404.43,698.80 410.18,698.80 C415.93,698.80 421.69,698.80 427.44,698.80 C433.19,698.80 438.95,710.40 444.70,710.40 C450.45,710.40 456.21,672.30 461.96,672.30 C514.64,672.30 567.32,672.30 620.00,672.30" stroke="#f25a56"/>
<path d="M99.50,691.80 C110.00,691.80 120.50,691.80 131.00,691.80 C137.50,691.80 144.00,834.30 150.50,834.30 C156.50,834.30 162.50,834.30 168.50,834.30 C175.00,834.30 181.50,691.80 188.00,691.80 C332.00,691.80 476.00,691.80 620.00,691.80" stroke="#5b8fef"/>
</g>
<circle cx="461.96" cy="662.3" r="2.6" fill="#fff" stroke="#5ab3f3" stroke-width="1.3"/>
<circle cx="461.96" cy="672.3" r="2.6" fill="#fff" stroke="#f25a56" stroke-width="1.3"/>
<circle cx="461.96" cy="683.8" r="2.6" fill="#fff" stroke="#55c961" stroke-width="1.3"/>
<circle cx="461.96" cy="691.8" r="2.6" fill="#fff" stroke="#5b8fef" stroke-width="1.3"/>
<circle cx="461.96" cy="741.6" r="2.6" fill="#fff" stroke="#f8a450" stroke-width="1.3"/>
<circle cx="461.96" cy="752.8" r="2.6" fill="#fff" stroke="#a55ff0" stroke-width="1.3"/>
</svg>
<div class="t" style="left:92.30px;top:623.57px;font-size:7.00px;line-height:7.00px;color:#9a9da3;-webkit-text-stroke:0.22px #9a9da3;transform:scaleX(0.6750)">1</div>
<div class="t" style="left:88.40px;top:697.37px;font-size:7.00px;line-height:7.00px;color:#9a9da3;-webkit-text-stroke:0.22px #9a9da3;transform:scaleX(0.9502)">10</div>
<div class="t" style="left:85.00px;top:766.57px;font-size:7.00px;line-height:7.00px;color:#9a9da3;-webkit-text-stroke:0.22px #9a9da3;transform:scaleX(0.8824)">100</div>
<div class="t" style="left:79px;top:828.5px;font-size:6.6px;line-height:7px;color:#8c9096;-webkit-text-stroke:0.2px #8c9096;transform:rotate(-90deg) scaleX(0.95);transform-origin:50% 50%;width:26px;text-align:center">Rank</div>
<div class="t" style="left:90.00px;top:847.97px;font-size:7.00px;line-height:7.00px;color:#9a9da3;-webkit-text-stroke:0.22px #9a9da3;transform:scaleX(0.8523)">16 Sep</div>
<div class="t" style="left:124.52px;top:847.97px;font-size:7.00px;line-height:7.00px;color:#9a9da3;-webkit-text-stroke:0.22px #9a9da3;transform:scaleX(0.8523)">18 Sep</div>
<div class="t" style="left:159.04px;top:847.97px;font-size:7.00px;line-height:7.00px;color:#9a9da3;-webkit-text-stroke:0.22px #9a9da3;transform:scaleX(0.8523)">20 Sep</div>
<div class="t" style="left:193.56px;top:847.97px;font-size:7.00px;line-height:7.00px;color:#9a9da3;-webkit-text-stroke:0.22px #9a9da3;transform:scaleX(0.8523)">22 Sep</div>
<div class="t" style="left:228.08px;top:847.97px;font-size:7.00px;line-height:7.00px;color:#9a9da3;-webkit-text-stroke:0.22px #9a9da3;transform:scaleX(0.8523)">24 Sep</div>
<div class="t" style="left:262.60px;top:847.97px;font-size:7.00px;line-height:7.00px;color:#9a9da3;-webkit-text-stroke:0.22px #9a9da3;transform:scaleX(0.8523)">26 Sep</div>
<div class="t" style="left:297.12px;top:847.97px;font-size:7.00px;line-height:7.00px;color:#9a9da3;-webkit-text-stroke:0.22px #9a9da3;transform:scaleX(0.8523)">28 Sep</div>
<div class="t" style="left:331.64px;top:847.97px;font-size:7.00px;line-height:7.00px;color:#9a9da3;-webkit-text-stroke:0.22px #9a9da3;transform:scaleX(0.8523)">30 Sep</div>
<div class="t" style="left:367.91px;top:847.97px;font-size:7.00px;line-height:7.00px;color:#9a9da3;-webkit-text-stroke:0.22px #9a9da3;transform:scaleX(0.9236)">2 Oct</div>
<div class="t" style="left:402.43px;top:847.97px;font-size:7.00px;line-height:7.00px;color:#9a9da3;-webkit-text-stroke:0.22px #9a9da3;transform:scaleX(0.9236)">4 Oct</div>
<div class="t" style="left:436.95px;top:847.97px;font-size:7.00px;line-height:7.00px;color:#9a9da3;-webkit-text-stroke:0.22px #9a9da3;transform:scaleX(0.9236)">6 Oct</div>
<div class="t" style="left:471.47px;top:847.97px;font-size:7.00px;line-height:7.00px;color:#9a9da3;-webkit-text-stroke:0.22px #9a9da3;transform:scaleX(0.9236)">8 Oct</div>
<div class="t" style="left:504.49px;top:847.97px;font-size:7.00px;line-height:7.00px;color:#9a9da3;-webkit-text-stroke:0.22px #9a9da3;transform:scaleX(0.8948)">10 Oct</div>
<div class="t" style="left:539.01px;top:847.97px;font-size:7.00px;line-height:7.00px;color:#9a9da3;-webkit-text-stroke:0.22px #9a9da3;transform:scaleX(0.8948)">12 Oct</div>
<div class="t" style="left:573.53px;top:847.97px;font-size:7.00px;line-height:7.00px;color:#9a9da3;-webkit-text-stroke:0.22px #9a9da3;transform:scaleX(0.8948)">14 Oct</div>
<div class="t" style="left:608.05px;top:847.97px;font-size:7.00px;line-height:7.00px;color:#9a9da3;-webkit-text-stroke:0.22px #9a9da3;transform:scaleX(0.8948)">16 Oct</div>
<div class="t" style="left:99.40px;top:871.44px;font-size:7.40px;line-height:7.40px;font-weight:700;color:#3a3a3a;transform:scaleX(0.8378)">Keywords</div>
<div class="a" style="left:146.3px;top:871.5px;width:5.6px;height:5.6px;border-radius:1.5px;background:#e53a3a"></div>
<div class="t" style="left:156.30px;top:871.44px;font-size:7.40px;line-height:7.40px;color:#444;-webkit-text-stroke:0.22px #444;transform:scaleX(0.8935)">So strong (YouTube, Google)</div>
<div class="a" style="left:256.5px;top:871.5px;width:5.6px;height:5.6px;border-radius:1.5px;background:#3cb94a"></div>
<div class="t" style="left:266.50px;top:871.44px;font-size:7.40px;line-height:7.40px;color:#444;-webkit-text-stroke:0.22px #444;transform:scaleX(0.9022)">Stronger (Google, Bing)</div>
<div class="a" style="left:350.5px;top:871.5px;width:5.6px;height:5.6px;border-radius:1.5px;background:#1e72c9"></div>
<div class="t" style="left:361.50px;top:871.44px;font-size:7.40px;line-height:7.40px;color:#444;-webkit-text-stroke:0.22px #444;transform:scaleX(0.8747)">Have skill (Bing, Yahoo)</div>
<div class="a" style="left:445.0px;top:871.5px;width:5.6px;height:5.6px;border-radius:1.5px;background:#fbc02d"></div>
<div class="t" style="left:455.50px;top:871.44px;font-size:7.40px;line-height:7.40px;color:#444;-webkit-text-stroke:0.22px #444;transform:scaleX(0.8873)">Stranger (Yahoo, Google)</div>
<div class="a" style="left:545.1px;top:871.5px;width:5.6px;height:5.6px;border-radius:1.5px;background:#f28b2c"></div>
<div class="t" style="left:555.60px;top:871.44px;font-size:7.40px;line-height:7.40px;color:#444;-webkit-text-stroke:0.22px #444;transform:scaleX(0.8774)">How to ( Google, Amazon)</div>
<div class="a" style="left:146.3px;top:887.1px;width:5.6px;height:5.6px;border-radius:1.5px;background:#2196f3"></div>
<div class="t" style="left:156.30px;top:887.04px;font-size:7.40px;line-height:7.40px;color:#444;-webkit-text-stroke:0.22px #444;transform:scaleX(0.8874)">Find (Google, YouTube)</div>
<div class="a" style="left:240.6px;top:887.1px;width:5.6px;height:5.6px;border-radius:1.5px;background:#9b3cf2"></div>
<div class="t" style="left:250.60px;top:887.04px;font-size:7.40px;line-height:7.40px;color:#444;-webkit-text-stroke:0.22px #444;transform:scaleX(0.9005)">Main skills (Youtube, Google)</div>
<div class="a" style="left:473.3px;top:701.1px;width:64.7px;height:99.1px;border-radius:3px;background:#fff;box-shadow:0 1px 5px rgba(30,40,60,0.12)"></div>
<div class="t" style="left:478.70px;top:705.54px;font-size:6.80px;line-height:6.80px;color:#a5a8ad;-webkit-text-stroke:0.22px #a5a8ad;transform:scaleX(0.9561)">7 Oct 2018</div>
<svg style="left:477.8px;top:716.6px" width="6" height="6" viewBox="0 0 6 6"><circle cx="3" cy="3" r="2.2" fill="#fff" stroke="#5ab3f3" stroke-width="1.1"/></svg>
<div class="t" style="left:491.20px;top:716.67px;font-size:7.00px;line-height:7.00px;font-weight:700;color:#444;transform:scaleX(0.9000)">5</div>
<div class="t" style="left:500.00px;top:716.67px;font-size:7.00px;line-height:7.00px;color:#444;-webkit-text-stroke:0.25px #444;transform:scaleX(0.9108)">Find</div>
<svg style="left:477.8px;top:728.4px" width="6" height="6" viewBox="0 0 6 6"><circle cx="3" cy="3" r="2.2" fill="#fff" stroke="#f25a56" stroke-width="1.1"/></svg>
<div class="t" style="left:491.20px;top:728.50px;font-size:7.00px;line-height:7.00px;font-weight:700;color:#444;transform:scaleX(0.9000)">6</div>
<div class="t" style="left:500.00px;top:728.50px;font-size:7.00px;line-height:7.00px;color:#444;-webkit-text-stroke:0.25px #444;transform:scaleX(0.8314)">So strong</div>
<svg style="left:477.8px;top:740.3px" width="6" height="6" viewBox="0 0 6 6"><circle cx="3" cy="3" r="2.2" fill="#fff" stroke="#55c961" stroke-width="1.1"/></svg>
<div class="t" style="left:491.20px;top:740.33px;font-size:7.00px;line-height:7.00px;font-weight:700;color:#444;transform:scaleX(0.9000)">8</div>
<div class="t" style="left:500.00px;top:740.33px;font-size:7.00px;line-height:7.00px;color:#444;-webkit-text-stroke:0.25px #444;transform:scaleX(0.8177)">Stronger</div>
<svg style="left:477.8px;top:752.1px" width="6" height="6" viewBox="0 0 6 6"><circle cx="3" cy="3" r="2.2" fill="#fff" stroke="#3d86d8" stroke-width="1.1"/></svg>
<div class="t" style="left:491.20px;top:752.16px;font-size:7.00px;line-height:7.00px;font-weight:700;color:#444;transform:scaleX(0.9000)">9</div>
<div class="t" style="left:500.00px;top:752.16px;font-size:7.00px;line-height:7.00px;color:#444;-webkit-text-stroke:0.25px #444;transform:scaleX(0.8323)">Have skill</div>
<svg style="left:477.8px;top:763.9px" width="6" height="6" viewBox="0 0 6 6"><circle cx="3" cy="3" r="2.2" fill="#fff" stroke="#f8a450" stroke-width="1.1"/></svg>
<div class="t" style="left:487.40px;top:763.99px;font-size:7.00px;line-height:7.00px;font-weight:700;color:#444;transform:scaleX(0.9375)">70</div>
<div class="t" style="left:500.00px;top:763.99px;font-size:7.00px;line-height:7.00px;color:#444;-webkit-text-stroke:0.25px #444;transform:scaleX(0.8450)">How to</div>
<svg style="left:477.8px;top:775.7px" width="6" height="6" viewBox="0 0 6 6"><circle cx="3" cy="3" r="2.2" fill="#fff" stroke="#fdd65c" stroke-width="1.1"/></svg>
<div class="t" style="left:487.40px;top:775.82px;font-size:7.00px;line-height:7.00px;font-weight:700;color:#444;transform:scaleX(0.9375)">90</div>
<div class="t" style="left:500.00px;top:775.82px;font-size:7.00px;line-height:7.00px;color:#444;-webkit-text-stroke:0.25px #444;transform:scaleX(0.9151)">Main skills</div>
<svg style="left:477.8px;top:787.6px" width="6" height="6" viewBox="0 0 6 6"><circle cx="3" cy="3" r="2.2" fill="#fff" stroke="#a55ff0" stroke-width="1.1"/></svg>
<div class="t" style="left:487.40px;top:787.65px;font-size:7.00px;line-height:7.00px;font-weight:700;color:#444;transform:scaleX(0.9375)">90</div>
<div class="t" style="left:500.00px;top:787.65px;font-size:7.00px;line-height:7.00px;color:#444;-webkit-text-stroke:0.25px #444;transform:scaleX(0.9151)">Main skills</div>
<svg style="left:461.3px;top:721.3px" width="6" height="8" viewBox="0 0 6 8"><path d="M0.4,0.4 L0.4,6.6 L1.9,5.2 L3.2,7.6 L4.2,7.1 L3,4.8 L5,4.6 Z" fill="#222" stroke="#fff" stroke-width="0.5"/></svg>
</body></html>
